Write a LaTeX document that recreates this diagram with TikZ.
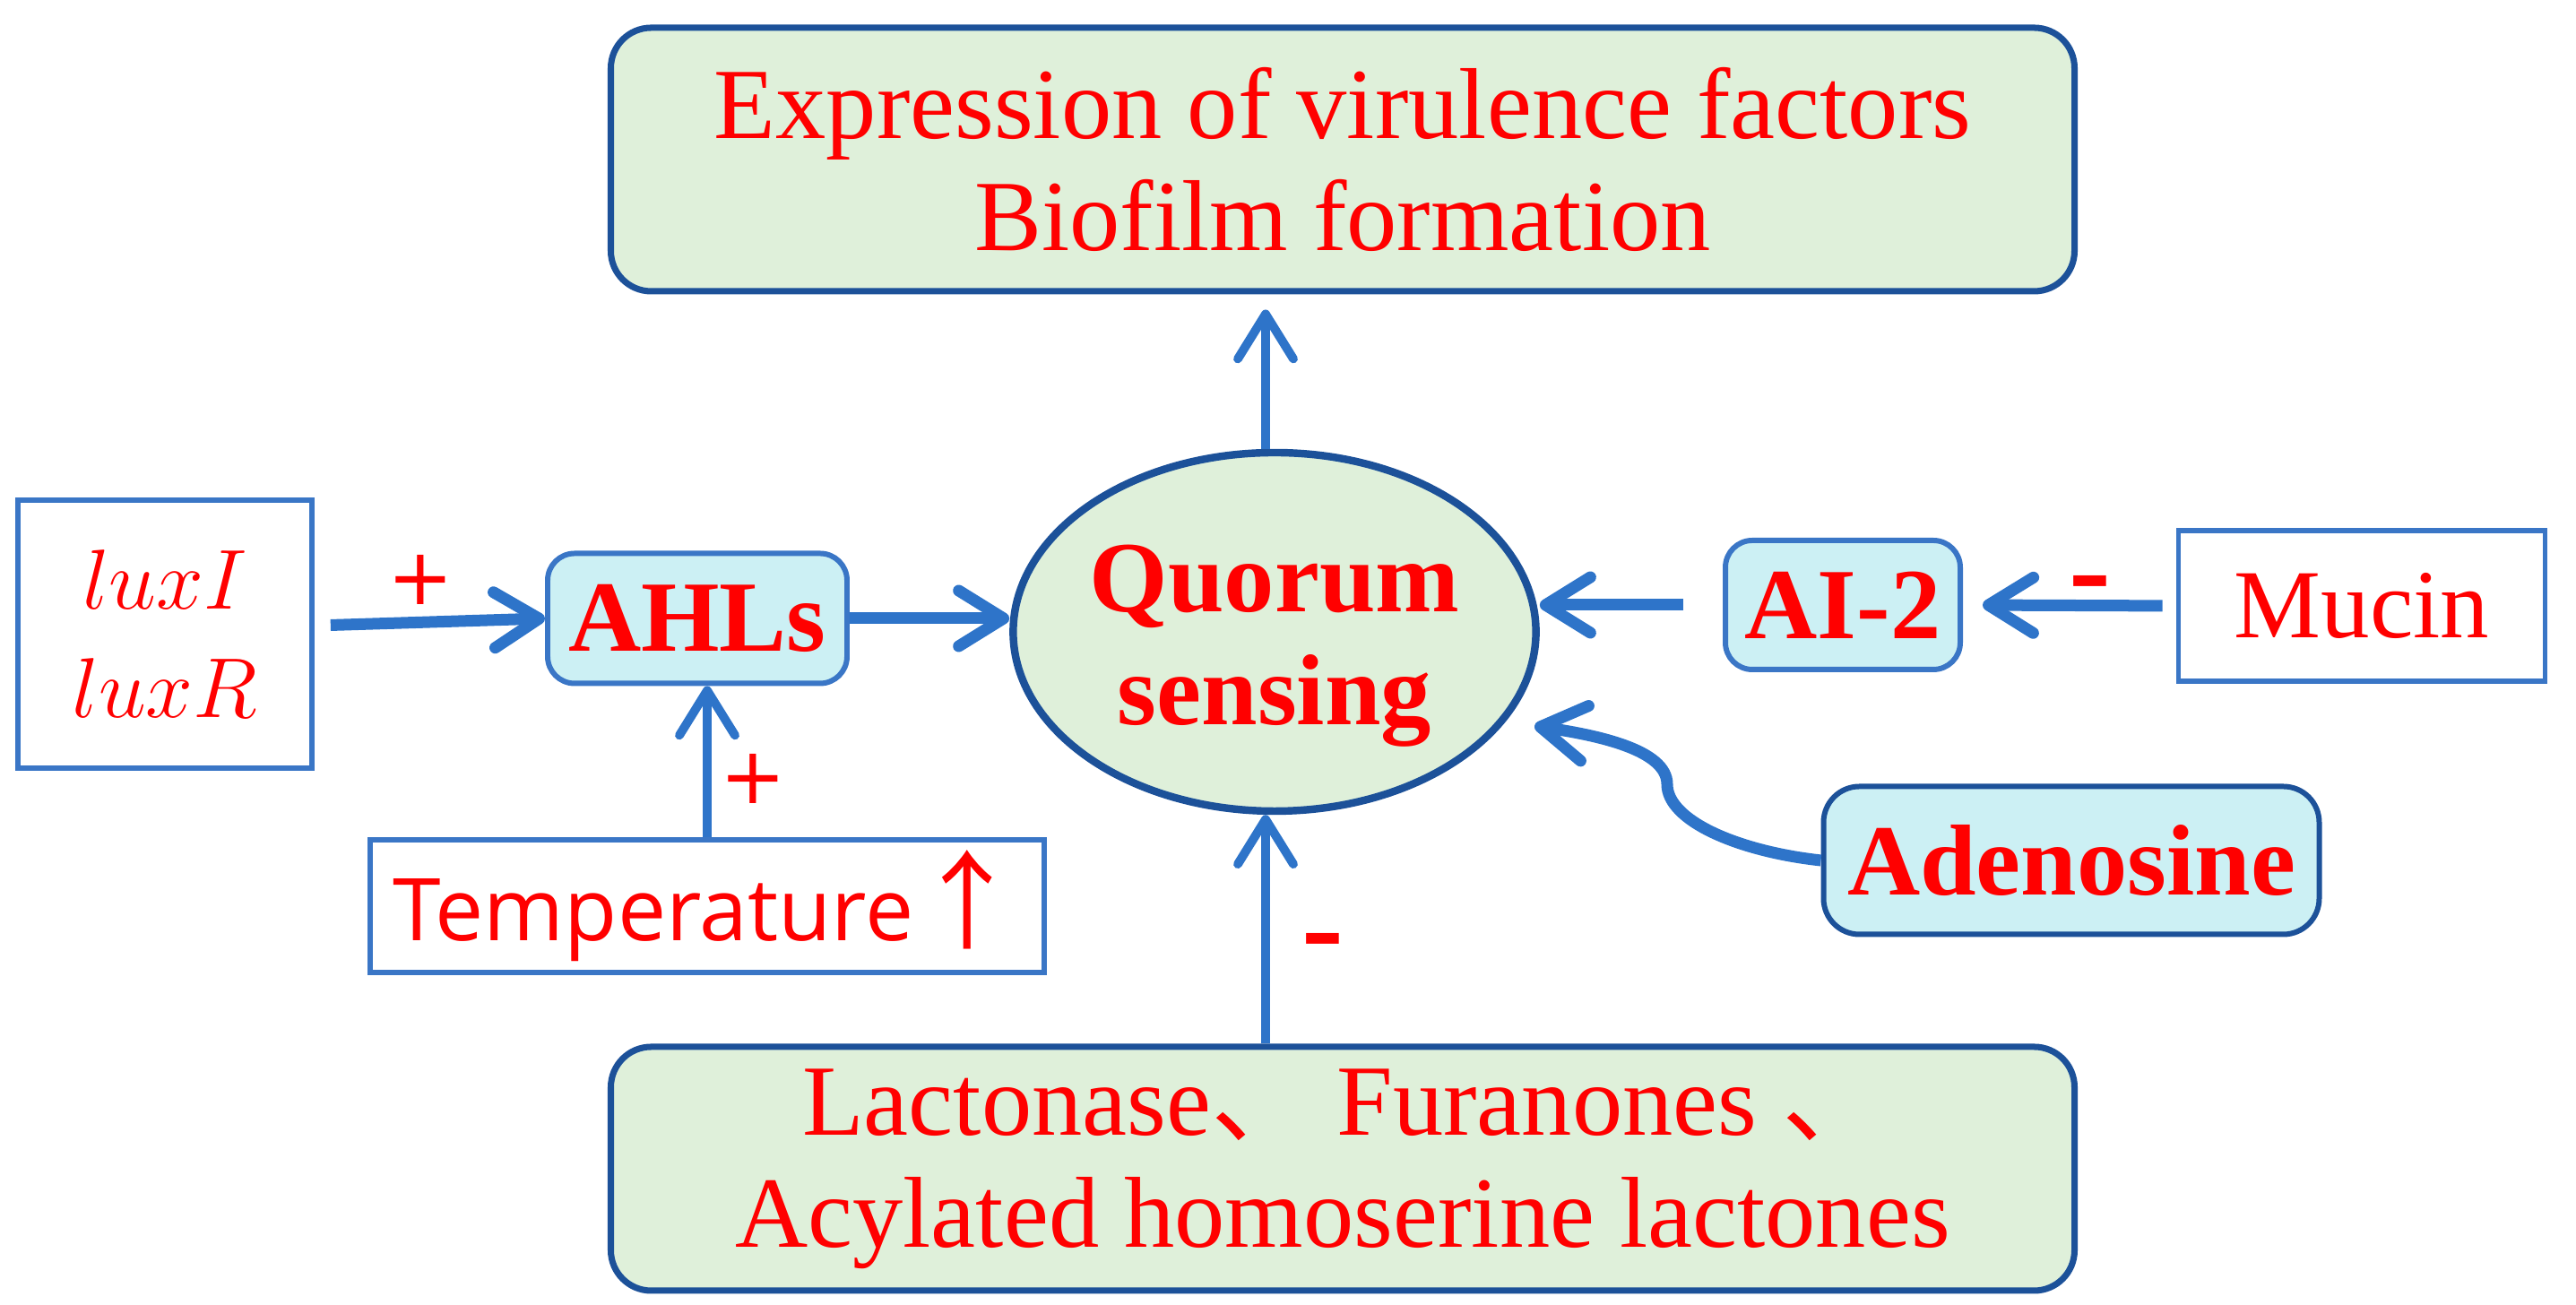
\documentclass[tikz,border=0pt]{standalone}
\usepackage{fix-cm}
\usepackage{fontspec}
\setmainfont{Liberation Serif}
\newfontfamily\cjk{Noto Sans CJK SC}
\newfontfamily\opensans{Open Sans}
\newfontfamily\dejavu{DejaVu Sans}
\usepackage[dvipsnames]{xcolor}
\usepackage{tikz}
\usetikzlibrary{ shapes.geometric }
\usetikzlibrary{arrows.meta}

\definecolor{txtred}{HTML}{FF0000}
\definecolor{palegreen}{HTML}{DFF0DA}
\definecolor{paleblue}{HTML}{CCF0F4}
\definecolor{darkblue}{HTML}{1C5199}
\definecolor{midblue}{HTML}{3A76C6}
\definecolor{arrowblue}{HTML}{2E74C9}
\newcommand{\figsize}[2]{\fontsize{#1}{#2}\selectfont}

\begin{document}
\begin{tikzpicture} [
    every node/.style = {text=txtred, inner sep=0pt, align=center},
    bigbox/.style = {draw=darkblue, line width=2pt, fill=palegreen, rounded corners=0.45cm, minimum width=16.33cm, font=\figsize{32pt}{35.6pt}},
    keybox/.style = {draw=midblue, line width=1.7pt, fill=paleblue, rounded corners=0.3cm, font=\bfseries\figsize{32pt}{35pt}},
    plainbox/.style = {draw=midblue, line width=1.6pt},
    sign/.style = {font=\dejavu\figsize{25pt}{25pt}},
    minus/.style = {font=\bfseries\figsize{40pt}{40pt}},
    link/.style = {draw=arrowblue, line width=3.7pt, -{Straight Barb[length=0.5cm,width=0.62cm,round]}},
    thin link/.style = {link, line width=2.8pt}
]
    \useasboundingbox (0,0) rectangle (28.74,14.56);

    \node[bigbox, minimum height=2.94cm] (virul) at (14.98,12.78) {Expression of virulence factors\\Biofilm formation};
    \node[ellipse, draw=darkblue, line width=2.4pt, fill=palegreen, minimum width=5.6cm, minimum height=4.0cm, font=\bfseries\figsize{32pt}{36pt}] (qs) at (14.22,7.51) {\rule{0pt}{30pt}Quorum\\sensing};
    \node[bigbox, minimum height=2.72cm] (inhib) at (14.98,1.52) {Lactonase{\cjk 、} Furanones {\cjk 、}\\Acylated homoserine lactones};

    \node[plainbox, minimum width=3.28cm, minimum height=2.99cm, font=\figsize{27pt}{34.4pt}] (lux) at (1.84,7.485) {$luxI$\\$luxR$};
    \node[keybox, minimum width=3.34cm, minimum height=1.45cm] (ahl) at (7.78,7.66) {AHLs};
    \node[plainbox, minimum width=7.52cm, minimum height=1.48cm, font=\opensans\figsize{27.5pt}{30pt}] (temp) at (7.89,4.45) {Temperature{\cjk\figsize{34pt}{34pt}↑}};

    \node[keybox, minimum width=2.62cm, minimum height=1.44cm] (ai2) at (20.56,7.81) {AI-2};
    \node[plainbox, minimum width=4.09cm, minimum height=1.68cm, font=\figsize{31pt}{36pt}] (mucin) at (26.35,7.80) {Mucin};
    \node[keybox, draw=darkblue, rounded corners=0.4cm, minimum width=5.53cm, minimum height=1.65cm] (adeno) at (23.11,4.96) {Adenosine};

    \node[sign] (luxplus) at (4.69,8.09) {+};
    \node[sign] (tempplus) at (8.40,5.87) {+};
    \node[minus] (mucminus) at (23.32,7.94) {-};
    \node[minus] (inhminus) at (14.76,3.95) {-};

    \draw[link] ([shift={(0.18,0.1)}]lux.east) -- (ahl.west);
    \draw[link] (ahl.east) -- (ahl.east -| qs.west);
    \draw[thin link] (temp.north) -- (temp.north |- ahl.south);
    \draw[link] ([xshift=-0.44cm]ai2.west) -- (ai2.west -| qs.east);
    \draw[link, shorten <=0.15cm, shorten >=0.22cm] (mucin.west) -- (ai2.east);
    \draw[thin link, shorten >=0.17cm] ([xshift=-0.1cm]qs.north) -- ([xshift=-0.1cm]virul.south -| qs.north);
    \draw[thin link] ([xshift=-0.1cm]inhib.north -| qs.south) -- ([xshift=-0.1cm]qs.south);
    \coordinate (adtip) at (17.12,6.46);
    \draw[link] (adeno.west) .. controls (19.4,5.06) and (18.6,5.4) .. (18.6,5.81) .. controls (18.6,6.2) and (17.8,6.36) .. (adtip);
\end{tikzpicture}
\end{document}
